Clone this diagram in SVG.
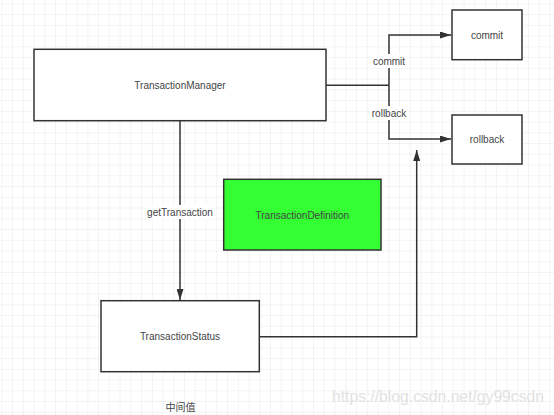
<svg xmlns="http://www.w3.org/2000/svg" width="554" height="415" viewBox="0 0 554 415">
<defs>
<pattern id="grid" x="1.3" y="3.3" width="10.75" height="10.75" patternUnits="userSpaceOnUse">
<path d="M0 0H10.75M0 0V10.75" fill="none" stroke="#e8e8e8" stroke-width="1"/>
</pattern>
<marker id="arr" markerWidth="11" markerHeight="7" refX="11" refY="3.5" orient="auto" markerUnits="userSpaceOnUse">
<path d="M0 0L11 3.5L0 7Z" fill="#333"/>
</marker>
<style>
.box{fill:#fff;stroke:#333;stroke-width:1.5}
.t{font-family:"Liberation Sans",Arial,sans-serif;font-size:10px;fill:#444;text-anchor:middle;dominant-baseline:central}
.c{fill:none;stroke:#333;stroke-width:1.5}
.lbl{fill:#fff}
</style>
</defs>
<rect width="554" height="415" fill="#fff"/>
<rect width="554" height="415" fill="url(#grid)"/>
<g id="connectors">
<path class="c" d="M326 85.3H389"/>
<path class="c" d="M389 85.3V35H451" marker-end="url(#arr)"/>
<path class="c" d="M389 85.3V139H451" marker-end="url(#arr)"/>
<path class="c" d="M180 121V300" marker-end="url(#arr)"/>
<path class="c" d="M259 336.7H416.7V150" marker-end="url(#arr)"/>
<rect class="lbl" x="371" y="54" width="36" height="14"/>
<text class="t" x="389" y="61">commit</text>
<rect class="lbl" x="370" y="106" width="38" height="14"/>
<text class="t" x="389" y="113">rollback</text>
<rect class="lbl" x="147" y="205" width="66" height="14"/>
<text class="t" x="180" y="212">getTransaction</text>
</g>
<g id="TransactionManager">
<rect class="box" x="34" y="49.3" width="292" height="71.4"/>
<text class="t" x="180" y="85">TransactionManager</text>
</g>
<g id="commit">
<rect class="box" x="452" y="10" width="70" height="49.7"/>
<text class="t" x="487" y="35">commit</text>
</g>
<g id="rollback">
<rect class="box" x="452" y="115" width="70" height="49"/>
<text class="t" x="487" y="139.5">rollback</text>
</g>
<g id="TransactionDefinition">
<rect class="box" x="223.7" y="179.3" width="157.3" height="70.7" style="fill:#33ff33"/>
<text class="t" x="302.3" y="215">TransactionDefinition</text>
</g>
<g id="TransactionStatus">
<rect class="box" x="101" y="300.7" width="158.3" height="71"/>
<text class="t" x="180" y="336.5">TransactionStatus</text>
</g>
<text class="t" x="180.5" y="406.7" style="font-family:'Noto Sans CJK SC',sans-serif">中间值</text>
<text x="332" y="402" textLength="212" lengthAdjust="spacingAndGlyphs" style="font-family:'Liberation Sans',Arial,sans-serif;font-size:16px;fill:#e2e2e2">https://blog.csdn.net/gy99csdn</text>
</svg>
